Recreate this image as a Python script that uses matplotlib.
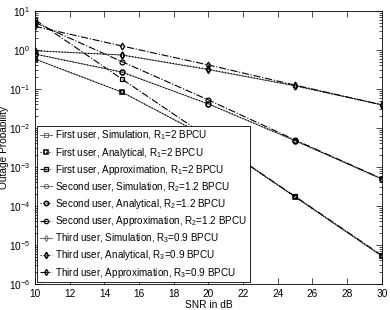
import matplotlib
matplotlib.use("Agg")
import matplotlib.pyplot as plt
import numpy as np

plt.rcParams['font.family'] = ['Liberation Sans', 'DejaVu Sans']
plt.rcParams['mathtext.fontset'] = 'custom'
plt.rcParams['mathtext.rm'] = 'Liberation Sans'
plt.rcParams['mathtext.it'] = 'Liberation Sans:italic'

snr = [10, 15, 20, 25, 30]

u1_sim = [0.58, 0.083, 0.0056, 1.7e-4, 5.2e-6]
u1_ana = [0.58, 0.083, 0.0056, 1.7e-4, 5.2e-6]
u1_app = [5.9, 0.18, 0.0056, 1.75e-4, 5.4e-6]

u2_sim = [0.78, 0.27, 0.041, 0.0047, 4.9e-4]
u2_ana = [0.78, 0.27, 0.041, 0.0047, 4.9e-4]
u2_app = [5.0, 0.50, 0.052, 0.0049, 5.0e-4]

u3_sim = [0.95, 0.74, 0.31, 0.12, 0.039]
u3_ana = [0.95, 0.74, 0.32, 0.12, 0.039]
u3_app = [4.0, 1.26, 0.41, 0.125, 0.039]

labels = [
    'First user, Simulation, R$_1$=2 BPCU',
    'First user, Analytical, R$_1$=2 BPCU',
    'First user, Approximation, R$_1$=2 BPCU',
    'Second user, Simulation, R$_2$=1.2 BPCU',
    'Second user, Analytical, R$_2$=1.2 BPCU',
    'Second user, Approximation, R$_2$=1.2 BPCU',
    'Third user, Simulation, R$_3$=0.9 BPCU',
    'Third user, Analytical, R$_3$=0.9 BPCU',
    'Third user, Approximation, R$_3$=0.9 BPCU',
]

fig = plt.figure(figsize=(3.9, 3.1), dpi=100)
ax = fig.add_axes([0.09, 0.084, 0.889, 0.881])

series = [u1_sim, u1_ana, u1_app, u2_sim, u2_ana, u2_app, u3_sim, u3_ana, u3_app]
markers = ['s', 's', 's', 'o', 'o', 'o', 'd', 'd', 'd']
styles = ['-', ':', '-.'] * 3
widths = [0.6, 0.8, 0.8] * 3
mew = [0.6, 1.1, 0.9] * 3
colors = ['#555555', 'black', 'black'] * 3

for s, m, ls, lw, mw, c, lab in zip(series, markers, styles, widths, mew, colors, labels):
    ax.plot(snr, s, linestyle=ls, color=c, linewidth=lw, marker=m, markersize=3.5,
            markerfacecolor='none', markeredgecolor=c, markeredgewidth=mw, label=lab)

ax.set_yscale('log')
ax.set_xlim(10, 30)
ax.set_ylim(1e-6, 1e1)
ax.set_xticks(range(10, 31, 2))
ax.set_yticks([10.0 ** k for k in range(-6, 2)])
ax.tick_params(which='both', direction='in', top=True, right=True, labelsize=7.3)
ax.tick_params(which='major', length=4, width=0.5)
ax.tick_params(which='minor', length=2, width=0.5)
for sp in ax.spines.values():
    sp.set_linewidth(0.6)
ax.set_xlabel('SNR in dB', fontsize=7.3, labelpad=1)
ax.set_ylabel('Outage Probability', fontsize=7.3)
ax.yaxis.set_label_coords(-0.074, 0.5)

leg = ax.legend(loc='lower left', fontsize=7.1, handlelength=1.3, handletextpad=0.3,
                labelspacing=0.33, borderaxespad=0.15, fancybox=False, framealpha=1,
                edgecolor='black', borderpad=0.3, markerscale=0.9)
leg.get_frame().set_linewidth(0.6)

fig.savefig('out.png', dpi=100)
